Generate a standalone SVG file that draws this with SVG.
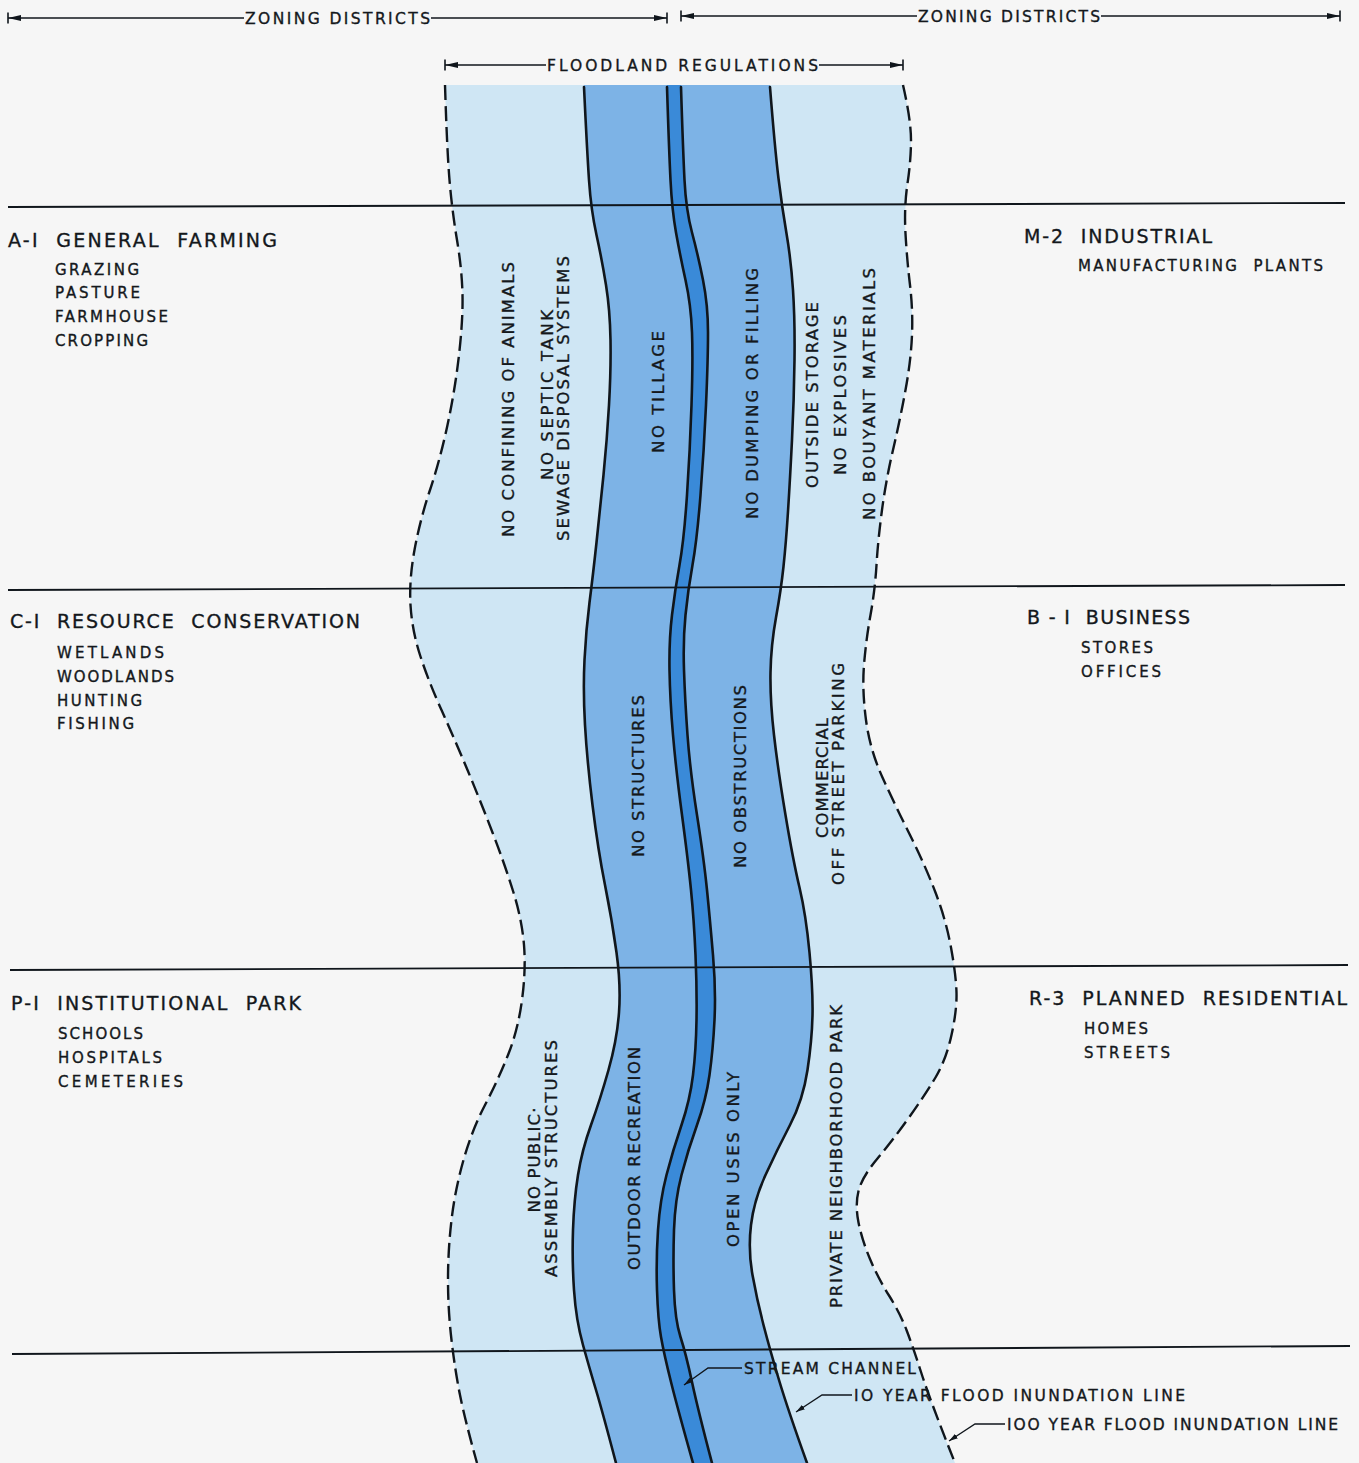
<svg xmlns="http://www.w3.org/2000/svg" width="1359" height="1463" viewBox="0 0 1359 1463">
<style>
text{font-family:"DejaVu Sans","Liberation Sans",Arial,sans-serif;fill:#14181c;stroke:#14181c;stroke-width:0.35px}
.h{font-size:19px}
.s{font-size:15px}
.r{font-size:16.5px;text-anchor:middle}
.t{font-size:15.5px}
.b{font-size:15.5px}
.light{fill:#cfe6f4}
.mid{fill:#7db3e6}
.dark{fill:#3a8ad8}
.sol{fill:none;stroke:#10161c;stroke-width:2.6;stroke-linecap:round;stroke-linejoin:round}
.dash{fill:none;stroke:#10161c;stroke-width:2.4;stroke-dasharray:15 6}
.hl{fill:none;stroke:#10161c;stroke-width:1.8}
.dim{fill:none;stroke:#10161c;stroke-width:1.3}
.lead{fill:none;stroke:#10161c;stroke-width:1.3}
</style>
<defs>
<marker id="ta" viewBox="0 0 14 14" refX="13" refY="7" markerWidth="14" markerHeight="14" markerUnits="userSpaceOnUse" orient="auto-start-reverse">
<path d="M0,4 L13,7 L0,10 Z" fill="#10161c"/>
<line x1="13" y1="1.5" x2="13" y2="12.5" stroke="#10161c" stroke-width="1.6"/>
</marker>
<marker id="la" viewBox="0 0 10 6" refX="10" refY="3" markerWidth="9" markerHeight="5.4" markerUnits="userSpaceOnUse" orient="auto">
<path d="M0,0 L10,3 L0,6 Z" fill="#10161c"/>
</marker>
</defs>
<rect x="0" y="0" width="1359" height="1463" fill="#f6f6f6"/>

<g id="floodland">
<path id="fill-100yr" class="light" d="M445,85 Q447,150 449.5,180 Q452,210 457,240 Q462,270 462.5,295 Q463,320 459,355 Q455,390 447.5,425 Q440,460 430,490 Q420,520 414.5,550 Q409,580 410.5,605 Q412,630 420,655 Q428,680 441.5,710 Q455,740 467.5,770 Q480,800 492.5,832.5 Q505,865 513.5,892.5 Q522,920 524,945 Q526,970 522,1000 Q518,1030 508,1055 Q498,1080 485,1105 Q472,1130 463.5,1160 Q455,1190 451.5,1220 Q448,1250 448,1280 Q448,1310 451.5,1340 Q455,1370 460,1395 Q465,1420 477,1463 L955,1463 Q930,1400 921.5,1373.5 Q913,1347 906.5,1330 Q900,1313 889,1295.5 Q878,1278 870,1259 Q862,1240 858.5,1222.5 Q855,1205 858.5,1191 Q862,1177 877.5,1158.5 Q893,1140 909,1117.5 Q925,1095 935.5,1077.5 Q946,1060 951.5,1035 Q957,1010 956.5,992.5 Q956,975 951,947.5 Q946,920 935.5,892.5 Q925,865 910,835 Q895,805 882.5,777.5 Q870,750 866,720 Q862,690 864,665 Q866,640 870.5,615 Q875,590 876.5,565 Q878,540 882,510 Q886,480 893,450 Q900,420 905.5,390 Q911,360 912,335 Q913,310 910,285 Q907,260 905.5,233.5 Q904,207 907.5,183.5 Q911,160 911,140 Q911,120 903,85 Z"/>
<path id="fill-10yr" class="mid" d="M584,85 Q587,150 589,180 Q591,210 596.5,235 Q602,260 606,285 Q610,310 610.5,340 Q611,370 609,405 Q607,440 603.5,475 Q600,510 596.5,542.5 Q593,575 589.5,602.5 Q586,630 584.5,660 Q583,690 585,725 Q587,760 592.5,805 Q598,850 605,885 Q612,920 616.5,952.5 Q621,985 619,1012.5 Q617,1040 608.5,1070 Q600,1100 591,1125 Q582,1150 578,1175 Q574,1200 573,1230 Q572,1260 574,1290 Q576,1320 583,1345 Q590,1370 596,1390 Q602,1410 616,1463 L807,1463 Q788,1410 779,1380 Q770,1350 763.5,1325 Q757,1300 752.5,1275 Q748,1250 751,1225 Q754,1200 765.5,1175 Q777,1150 790,1125 Q803,1100 807.5,1070 Q812,1040 812.5,1015 Q813,990 809.5,952.5 Q806,915 799.5,887.5 Q793,860 785.5,815 Q778,770 774,735 Q770,700 770.5,672.5 Q771,645 776,617.5 Q781,590 783.5,566.5 Q786,543 788,511.5 Q790,480 792,440 Q794,400 794.5,360 Q795,320 793,290 Q791,260 786.5,233.5 Q782,207 778.5,178.5 Q775,150 770,85 Z"/>
<path id="fill-channel" class="dark" d="M667,85 Q669,150 670.5,180 Q672,210 676,232.5 Q680,255 685.5,280 Q691,305 692,332.5 Q693,360 691.5,405 Q690,450 687,495 Q684,540 679.5,565 Q675,590 672,615 Q669,640 669.5,670 Q670,700 673,735 Q676,770 682,815 Q688,860 691,890 Q694,920 695.5,955 Q697,990 696.5,1020 Q696,1050 693,1075 Q690,1100 681.5,1125 Q673,1150 666.5,1175 Q660,1200 658,1230 Q656,1260 657,1290 Q658,1320 661,1337 Q664,1354 671,1382 Q678,1410 693,1463 L712,1463 Q698,1410 692,1382 Q686,1354 680.5,1337 Q675,1320 674,1290 Q673,1260 674,1230 Q675,1200 681.5,1175 Q688,1150 697,1125 Q706,1100 709.5,1075 Q713,1050 714.5,1020 Q716,990 713,955 Q710,920 707,890 Q704,860 697,815 Q690,770 687.5,735 Q685,700 684,670 Q683,640 685.5,615 Q688,590 692.5,565 Q697,540 700.5,495 Q704,450 706,405 Q708,360 708,332.5 Q708,305 703,280 Q698,255 692,232.5 Q686,210 684.5,180 Q683,150 681,85 Z"/>
</g>

<g id="district-lines">
<path class="hl" d="M8,207 L1345,203"/>
<path class="hl" d="M8,590 L1345,585"/>
<path class="hl" d="M10,970 L1348,965"/>
<path class="hl" d="M12,1354 L1350,1346"/>
</g>

<g id="flood-lines">
<path id="line-100-left" class="dash" d="M445,85 Q447,150 449.5,180 Q452,210 457,240 Q462,270 462.5,295 Q463,320 459,355 Q455,390 447.5,425 Q440,460 430,490 Q420,520 414.5,550 Q409,580 410.5,605 Q412,630 420,655 Q428,680 441.5,710 Q455,740 467.5,770 Q480,800 492.5,832.5 Q505,865 513.5,892.5 Q522,920 524,945 Q526,970 522,1000 Q518,1030 508,1055 Q498,1080 485,1105 Q472,1130 463.5,1160 Q455,1190 451.5,1220 Q448,1250 448,1280 Q448,1310 451.5,1340 Q455,1370 460,1395 Q465,1420 477,1463"/>
<path id="line-100-right" class="dash" d="M903,85 Q911,120 911,140 Q911,160 907.5,183.5 Q904,207 905.5,233.5 Q907,260 910,285 Q913,310 912,335 Q911,360 905.5,390 Q900,420 893,450 Q886,480 882,510 Q878,540 876.5,565 Q875,590 870.5,615 Q866,640 864,665 Q862,690 866,720 Q870,750 882.5,777.5 Q895,805 910,835 Q925,865 935.5,892.5 Q946,920 951,947.5 Q956,975 956.5,992.5 Q957,1010 951.5,1035 Q946,1060 935.5,1077.5 Q925,1095 909,1117.5 Q893,1140 877.5,1158.5 Q862,1177 858.5,1191 Q855,1205 858.5,1222.5 Q862,1240 870,1259 Q878,1278 889,1295.5 Q900,1313 906.5,1330 Q913,1347 921.5,1373.5 Q930,1400 955,1463"/>
<path id="line-10-left" class="sol" d="M584,87 Q587,150 589,180 Q591,210 596.5,235 Q602,260 606,285 Q610,310 610.5,340 Q611,370 609,405 Q607,440 603.5,475 Q600,510 596.5,542.5 Q593,575 589.5,602.5 Q586,630 584.5,660 Q583,690 585,725 Q587,760 592.5,805 Q598,850 605,885 Q612,920 616.5,952.5 Q621,985 619,1012.5 Q617,1040 608.5,1070 Q600,1100 591,1125 Q582,1150 578,1175 Q574,1200 573,1230 Q572,1260 574,1290 Q576,1320 583,1345 Q590,1370 596,1390 Q602,1410 616,1463"/>
<path id="line-10-right" class="sol" d="M770,87 Q775,150 778.5,178.5 Q782,207 786.5,233.5 Q791,260 793,290 Q795,320 794.5,360 Q794,400 792,440 Q790,480 788,511.5 Q786,543 783.5,566.5 Q781,590 776,617.5 Q771,645 770.5,672.5 Q770,700 774,735 Q778,770 785.5,815 Q793,860 799.5,887.5 Q806,915 809.5,952.5 Q813,990 812.5,1015 Q812,1040 807.5,1070 Q803,1100 790,1125 Q777,1150 765.5,1175 Q754,1200 751,1225 Q748,1250 752.5,1275 Q757,1300 763.5,1325 Q770,1350 779,1380 Q788,1410 807,1463"/>
<path id="channel-left" class="sol" d="M667,87 Q669,150 670.5,180 Q672,210 676,232.5 Q680,255 685.5,280 Q691,305 692,332.5 Q693,360 691.5,405 Q690,450 687,495 Q684,540 679.5,565 Q675,590 672,615 Q669,640 669.5,670 Q670,700 673,735 Q676,770 682,815 Q688,860 691,890 Q694,920 695.5,955 Q697,990 696.5,1020 Q696,1050 693,1075 Q690,1100 681.5,1125 Q673,1150 666.5,1175 Q660,1200 658,1230 Q656,1260 657,1290 Q658,1320 661,1337 Q664,1354 671,1382 Q678,1410 693,1463"/>
<path id="channel-right" class="sol" d="M681,87 Q683,150 684.5,180 Q686,210 692,232.5 Q698,255 703,280 Q708,305 708,332.5 Q708,360 706,405 Q704,450 700.5,495 Q697,540 692.5,565 Q688,590 685.5,615 Q683,640 684,670 Q685,700 687.5,735 Q690,770 697,815 Q704,860 707,890 Q710,920 713,955 Q716,990 714.5,1020 Q713,1050 709.5,1075 Q706,1100 697,1125 Q688,1150 681.5,1175 Q675,1200 674,1230 Q673,1260 674,1290 Q675,1320 680.5,1337 Q686,1354 692,1382 Q698,1410 712,1463"/>
</g>

<g id="dimensions">
<path class="dim" d="M8,18 L244,18" marker-start="url(#ta)"/>
<path class="dim" d="M431,18 L667,18" marker-end="url(#ta)"/>
<text class="t" x="245" y="23.5" textLength="185" lengthAdjust="spacing">ZONING DISTRICTS</text>
<path class="dim" d="M681,16 L917,16" marker-start="url(#ta)"/>
<path class="dim" d="M1101,16 L1340,16" marker-end="url(#ta)"/>
<text class="t" x="918" y="21.5" textLength="182" lengthAdjust="spacing">ZONING DISTRICTS</text>
<path class="dim" d="M445,65 L546,65" marker-start="url(#ta)"/>
<path class="dim" d="M819,65 L903,65" marker-end="url(#ta)"/>
<text class="t" x="547" y="70.5" textLength="271" lengthAdjust="spacing">FLOODLAND REGULATIONS</text>
</g>

<g id="zone-a1">
<text class="h" x="8" y="247" textLength="269" lengthAdjust="spacing" xml:space="preserve">A-I  GENERAL  FARMING</text>
<text class="s" x="55" y="275" textLength="84" lengthAdjust="spacing">GRAZING</text>
<text class="s" x="55" y="298" textLength="85" lengthAdjust="spacing">PASTURE</text>
<text class="s" x="55" y="322" textLength="113" lengthAdjust="spacing">FARMHOUSE</text>
<text class="s" x="55" y="346" textLength="93" lengthAdjust="spacing">CROPPING</text>
</g>
<g id="zone-m2">
<text class="h" x="1024" y="243" textLength="188" lengthAdjust="spacing" xml:space="preserve">M-2  INDUSTRIAL</text>
<text class="s" x="1078" y="271" textLength="245" lengthAdjust="spacing" xml:space="preserve">MANUFACTURING  PLANTS</text>
</g>
<g id="zone-c1">
<text class="h" x="10" y="628" textLength="350" lengthAdjust="spacing" xml:space="preserve">C-I  RESOURCE  CONSERVATION</text>
<text class="s" x="57" y="658" textLength="107" lengthAdjust="spacing">WETLANDS</text>
<text class="s" x="57" y="682" textLength="117" lengthAdjust="spacing">WOODLANDS</text>
<text class="s" x="57" y="706" textLength="85" lengthAdjust="spacing">HUNTING</text>
<text class="s" x="57" y="729" textLength="77" lengthAdjust="spacing">FISHING</text>
</g>
<g id="zone-b1">
<text class="h" x="1027" y="624" textLength="163" lengthAdjust="spacing" xml:space="preserve">B - I  BUSINESS</text>
<text class="s" x="1081" y="653" textLength="72" lengthAdjust="spacing">STORES</text>
<text class="s" x="1081" y="677" textLength="80" lengthAdjust="spacing">OFFICES</text>
</g>
<g id="zone-p1">
<text class="h" x="11" y="1010" textLength="290" lengthAdjust="spacing" xml:space="preserve">P-I  INSTITUTIONAL  PARK</text>
<text class="s" x="58" y="1039" textLength="85" lengthAdjust="spacing">SCHOOLS</text>
<text class="s" x="58" y="1063" textLength="104" lengthAdjust="spacing">HOSPITALS</text>
<text class="s" x="58" y="1087" textLength="125" lengthAdjust="spacing">CEMETERIES</text>
</g>
<g id="zone-r3">
<text class="h" x="1029" y="1005" textLength="318" lengthAdjust="spacing" xml:space="preserve">R-3  PLANNED  RESIDENTIAL</text>
<text class="s" x="1084" y="1034" textLength="64" lengthAdjust="spacing">HOMES</text>
<text class="s" x="1084" y="1058" textLength="86" lengthAdjust="spacing">STREETS</text>
</g>

<g id="regulations-upper">
<text class="r" transform="translate(513.5,399.5) rotate(-90)" textLength="275" lengthAdjust="spacing">NO CONFINING OF ANIMALS</text>
<text class="r" transform="translate(552.5,395) rotate(-90)" textLength="170" lengthAdjust="spacing">NO SEPTIC TANK</text>
<text class="r" transform="translate(569,398.5) rotate(-90)" textLength="285" lengthAdjust="spacing">SEWAGE DISPOSAL SYSTEMS</text>
<text class="r" transform="translate(663.5,392) rotate(-90)" textLength="122" lengthAdjust="spacing">NO TILLAGE</text>
<text class="r" transform="translate(757.5,393.5) rotate(-90)" textLength="251" lengthAdjust="spacing">NO DUMPING OR FILLING</text>
<text class="r" transform="translate(817.5,395) rotate(-90)" textLength="186" lengthAdjust="spacing">OUTSIDE STORAGE</text>
<text class="r" transform="translate(845.5,395) rotate(-90)" textLength="160" lengthAdjust="spacing">NO EXPLOSIVES</text>
<text class="r" transform="translate(874.5,394) rotate(-90)" textLength="252" lengthAdjust="spacing">NO BOUYANT MATERIALS</text>
</g>
<g id="regulations-middle">
<text class="r" transform="translate(643.5,776) rotate(-90)" textLength="162" lengthAdjust="spacing">NO STRUCTURES</text>
<text class="r" transform="translate(745.5,776.5) rotate(-90)" textLength="183" lengthAdjust="spacing">NO OBSTRUCTIONS</text>
<text class="r" transform="translate(827.5,778) rotate(-90)" textLength="120" lengthAdjust="spacing">COMMERCIAL</text>
<text class="r" transform="translate(843.5,774) rotate(-90)" textLength="222" lengthAdjust="spacing">OFF STREET PARKING</text>
</g>
<g id="regulations-lower">
<text class="r" transform="translate(540,1160) rotate(-90)" textLength="105" lengthAdjust="spacing">NO PUBLIC·</text>
<text class="r" transform="translate(557,1158.5) rotate(-90)" textLength="237" lengthAdjust="spacing">ASSEMBLY STRUCTURES</text>
<text class="r" transform="translate(640,1158.5) rotate(-90)" textLength="223" lengthAdjust="spacing">OUTDOOR RECREATION</text>
<text class="r" transform="translate(738.5,1159.5) rotate(-90)" textLength="175" lengthAdjust="spacing">OPEN USES ONLY</text>
<text class="r" transform="translate(842,1156.5) rotate(-90)" textLength="303" lengthAdjust="spacing">PRIVATE NEIGHBORHOOD PARK</text>
</g>

<g id="legend-leaders">
<path class="lead" d="M742,1368 L708,1368 L684,1385" marker-end="url(#la)"/>
<path class="lead" d="M852,1395 L822,1395 L796,1412" marker-end="url(#la)"/>
<path class="lead" d="M1005,1424 L975,1424 L949,1441" marker-end="url(#la)"/>
</g>
<g id="legend">
<text class="b" x="744" y="1374" textLength="172" lengthAdjust="spacing">STREAM CHANNEL</text>
<text class="b" x="854" y="1401" textLength="331" lengthAdjust="spacing">IO YEAR FLOOD INUNDATION LINE</text>
<text class="b" x="1007" y="1430" textLength="331" lengthAdjust="spacing">IOO YEAR FLOOD INUNDATION LINE</text>
</g>
</svg>
